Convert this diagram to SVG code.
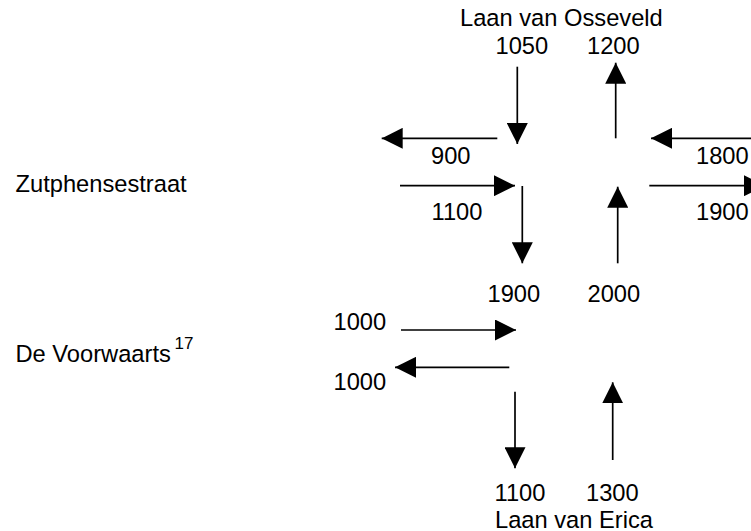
<svg xmlns="http://www.w3.org/2000/svg" width="751" height="531" viewBox="0 0 751 531">
<style>
text{font-family:"Liberation Sans",Arial,sans-serif;font-size:23.7px;fill:#000}
.sup{font-size:17px}
.arrow{stroke:#000;stroke-width:1.7;fill:none;marker-end:url(#head)}
</style>
<defs>
<marker id="head" viewBox="0 0 21 21" refX="21" refY="10.5" markerWidth="21" markerHeight="21" markerUnits="userSpaceOnUse" orient="auto">
<path d="M0,0 L21,10.5 L0,21 Z" fill="#000"/>
</marker>
</defs>
<rect width="751" height="531" fill="#fff"/>
<g id="street-north"><text x="460" y="26">Laan van Osseveld</text></g>
<g id="street-west-top"><text x="15.5" y="192">Zutphensestraat</text></g>
<g id="street-west-bottom"><text x="15.5" y="362">De Voorwaarts</text><text class="sup" x="174.5" y="348.5">17</text></g>
<g id="street-south"><text x="495" y="527.5">Laan van Erica</text></g>
<g id="n1050"><text x="495.5" y="54">1050</text></g>
<g id="n1200"><text x="587" y="54">1200</text></g>
<g id="n900"><text x="431" y="164">900</text></g>
<g id="n1800"><text x="696" y="164">1800</text></g>
<g id="n1100a"><text x="431.5" y="220">1100</text></g>
<g id="n1900a"><text x="696" y="220">1900</text></g>
<g id="n1900b"><text x="487.5" y="302">1900</text></g>
<g id="n2000"><text x="587.5" y="302">2000</text></g>
<g id="n1000a"><text x="333.5" y="330">1000</text></g>
<g id="n1000b"><text x="333.5" y="390">1000</text></g>
<g id="n1100b"><text x="494.5" y="501">1100</text></g>
<g id="n1300"><text x="586" y="501">1300</text></g>
<g id="connectors">
<line class="arrow" x1="517.3" y1="66.7" x2="517.3" y2="144"/>
<line class="arrow" x1="615.7" y1="138.3" x2="615.7" y2="62.7"/>
<line class="arrow" x1="497.3" y1="138.3" x2="381.7" y2="138.3"/>
<line class="arrow" x1="760" y1="138.3" x2="651" y2="138.3"/>
<line class="arrow" x1="400" y1="185.7" x2="515" y2="185.7"/>
<line class="arrow" x1="522.3" y1="186" x2="522.3" y2="263.3"/>
<line class="arrow" x1="617.7" y1="263.3" x2="617.7" y2="186.7"/>
<line class="arrow" x1="649.3" y1="185.7" x2="765" y2="185.7"/>
<line class="arrow" x1="401" y1="330" x2="516" y2="330"/>
<line class="arrow" x1="509.3" y1="367.3" x2="395" y2="367.3"/>
<line class="arrow" x1="515" y1="391.7" x2="515" y2="468.3"/>
<line class="arrow" x1="612.7" y1="460" x2="612.7" y2="382.3"/>
</g>
</svg>
